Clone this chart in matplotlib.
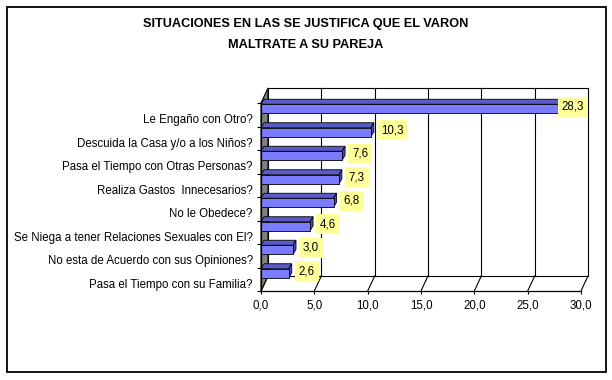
import matplotlib
matplotlib.use("Agg")
import matplotlib.pyplot as plt
from matplotlib.patches import Polygon, Rectangle
import numpy as np

plt.rcParams['font.family'] = ['Liberation Sans', 'DejaVu Sans']

# ---- data ----
title_lines = ["SITUACIONES EN LAS SE JUSTIFICA QUE EL VARON", "MALTRATE A SU PAREJA"]
categories = [
    "Le Engaño con Otro?",
    "Descuida la Casa y/o a los Niños?",
    "Pasa el Tiempo con Otras Personas?",
    "Realiza Gastos  Innecesarios?",
    "No le Obedece?",
    "Se Niega a tener Relaciones Sexuales con El?",
    "No esta de Acuerdo con sus Opiniones?",
    "Pasa el Tiempo con su Familia?",
]
values = [28.3, 10.3, 7.6, 7.3, 6.8, 4.6, 3.0, 2.6]
x_ticks = [0, 5, 10, 15, 20, 25, 30]
x_max = 30

# ---- style ----
W, H = 612, 380
FRONT = '#7B7BFF'
TOP = '#5A5AC8'
END = '#4C4CB0'
WALL = '#808080'
LABEL_BG = '#FFFF99'
FS = 8.3

fig = plt.figure(figsize=(W / 100, H / 100), dpi=100)
fig.patch.set_facecolor('white')

# outer border
fig.add_artist(Rectangle((7 / W, 8 / H), 599 / W, 365 / H, transform=fig.transFigure,
                         fill=False, edgecolor='black', linewidth=1.3))

# title
fig.text(0.5, 1 - 24 / H, title_lines[0], ha='center', va='center',
         fontsize=9.2, fontweight='bold')
fig.text(0.5, 1 - 45 / H, title_lines[1], ha='center', va='center',
         fontsize=9.2, fontweight='bold')

# axes = front plane of the 3D plot
left_px, right_px, top_px, bot_px = 261, 581, 103, 291
ax = fig.add_axes([left_px / W, 1 - bot_px / H, (right_px - left_px) / W, (bot_px - top_px) / H])
n = len(categories)
ax.set_xlim(0, x_max)
ax.set_ylim(n - 0.5, -0.5)
ax.set_facecolor('none')

px_x = (right_px - left_px) / x_max          # pixels per x unit
px_y = (bot_px - top_px) / n                 # pixels per band
dx = 7 / px_x                                # depth offset (x units)
dy = 15 / px_y                               # depth offset (bands)

y_top, y_bot = -0.5, n - 0.5
kw = dict(clip_on=False)

# left side wall (gray)
ax.add_patch(Polygon([(0, y_top), (dx, y_top - dy), (dx, y_bot - dy), (0, y_bot)],
                     closed=True, facecolor=WALL, edgecolor='black', linewidth=0.8,
                     zorder=1, **kw))
# back wall gridlines and top edge
for t in x_ticks:
    ax.plot([t + dx, t + dx], [y_top - dy, y_bot - dy], color='black', lw=0.8, zorder=0.5, **kw)
    ax.plot([t, t + dx], [y_bot, y_bot - dy], color='black', lw=0.8, zorder=0.5, **kw)
ax.plot([dx, x_max + dx], [y_top - dy, y_top - dy], color='black', lw=0.8, zorder=0.5, **kw)
ax.plot([dx, x_max + dx], [y_bot - dy, y_bot - dy], color='black', lw=0.8, zorder=0.5, **kw)

# bars
bar_off = -6 / px_y
bar_h = 9 / px_y
bdx = 3 / px_x
bdy = 5 / px_y
for i, v in enumerate(values):
    yc = i + bar_off
    yt, yb = yc - bar_h / 2, yc + bar_h / 2
    ax.add_patch(Polygon([(0, yt), (v, yt), (v + bdx, yt - bdy), (bdx, yt - bdy)],
                         closed=True, facecolor=TOP, edgecolor='black', linewidth=0.6, zorder=3, **kw))
    ax.add_patch(Polygon([(v, yt), (v + bdx, yt - bdy), (v + bdx, yb - bdy), (v, yb)],
                         closed=True, facecolor=END, edgecolor='black', linewidth=0.6, zorder=3, **kw))
    ax.add_patch(Rectangle((0, yt), v, bar_h, facecolor=FRONT, edgecolor='black',
                           linewidth=0.6, zorder=4, **kw))

# value labels
lab_off = -8 / px_y
gap = 10 / px_x
lab_w = 26 / px_x
for i, v in enumerate(values):
    txt = f"{v:.1f}".replace('.', ',')
    x = v + gap
    ha = 'left'
    if x + lab_w > x_max + dx:
        x = x_max + dx - 4 / px_x
        ha = 'right'
    ax.text(x, i + lab_off, txt, ha=ha, va='center', fontsize=FS, zorder=6,
            bbox=dict(boxstyle='square,pad=0.35', facecolor=LABEL_BG, edgecolor='none'),
            **kw)

# spines / ticks
for s in ['top', 'right']:
    ax.spines[s].set_visible(False)
for s in ['left', 'bottom']:
    ax.spines[s].set_linewidth(0.9)
    ax.spines[s].set_zorder(5)

ax.set_xticks(x_ticks)
ax.set_xticklabels([f"{t:.1f}".replace('.', ',') for t in x_ticks], fontsize=FS)
ax.tick_params(axis='x', direction='out', length=2.5, width=0.8, pad=3.5)

ax.set_yticks(np.arange(n + 1) - 0.5)
ax.set_yticklabels([])
ax.tick_params(axis='y', which='major', direction='out', length=3, width=0.8)
ax.set_yticks(np.arange(n) + 0.17, minor=True)
ax.set_yticklabels(categories, minor=True, fontsize=FS)
ax.tick_params(axis='y', which='minor', length=0, pad=6)

fig.savefig('out.png', dpi=100)
